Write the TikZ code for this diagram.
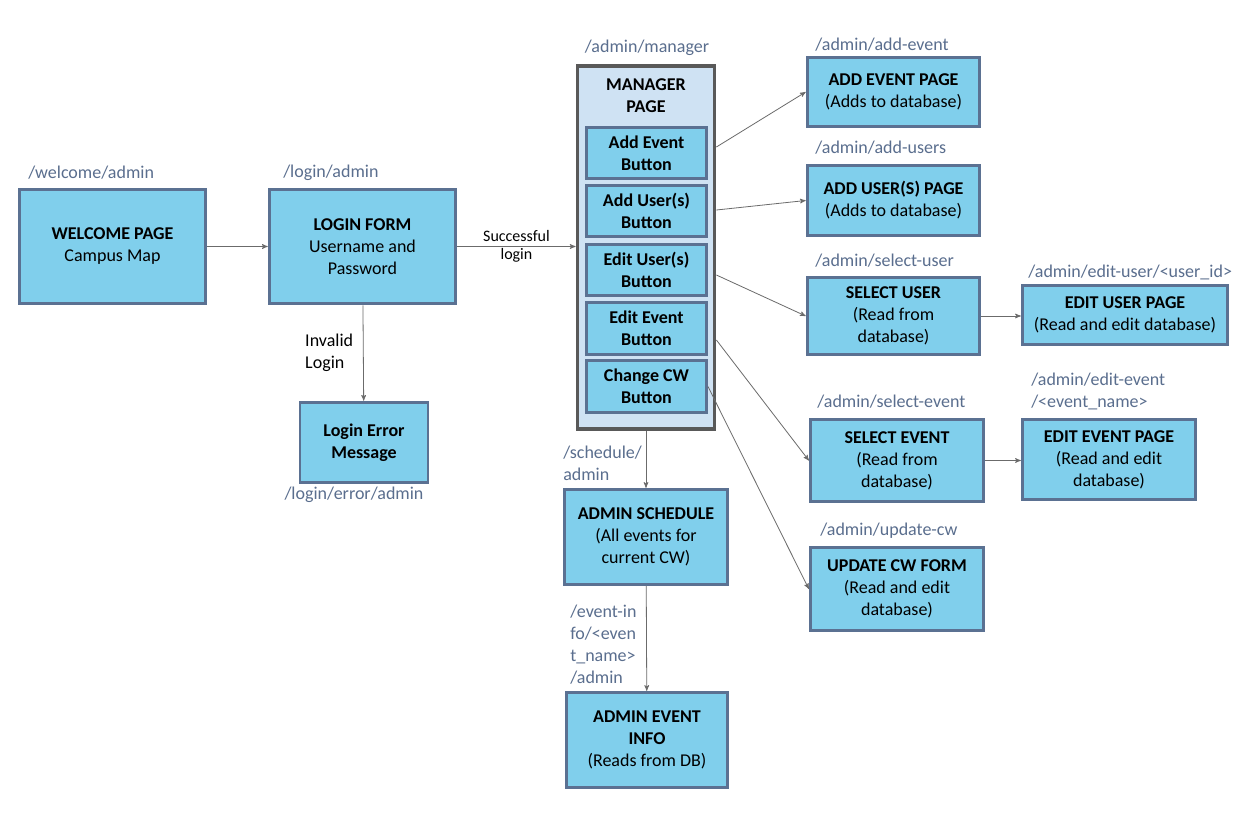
\documentclass[tikz,border=0pt]{standalone}
\usepackage{fontspec}
\setmainfont{Carlito}
\usetikzlibrary{arrows,positioning}
\definecolor{boxfill}{HTML}{80CFEC}
\definecolor{boxline}{HTML}{5B7192}
\definecolor{mgrfill}{HTML}{CFE2F3}
\definecolor{mgrline}{HTML}{595959}
\definecolor{routetext}{HTML}{5A6E8E}
\definecolor{linkline}{HTML}{6B6B6B}
\newcommand{\boxfont}{\fontsize{13.5}{16.5}\selectfont}
\tikzstyle{page}=[draw=boxline,fill=boxfill,line width=2.2pt,align=center,inner sep=2pt]
\tikzstyle{button}=[page,minimum width=90pt,minimum height=38.5pt]
\tikzstyle{route}=[text=routetext,inner sep=0pt]
\tikzstyle{link}=[->,>=stealth',draw=linkline,line width=0.6pt]

\begin{document}
\begin{tikzpicture}[x=0.75pt,y=-0.75pt,every node/.style={font=\boxfont}]
    \useasboundingbox (0,0) rectangle (1254,818);
    \fill[white] (0,0) rectangle (1254,818);

    % left part
    \node[page,minimum width=140pt,minimum height=86pt] (welcome) at (112.5,246.5) {\textbf{WELCOME PAGE}\\Campus Map};
    \node[page,minimum width=140pt,minimum height=86pt] (login) at (362.5,246.5) {\textbf{LOGIN FORM}\\Username and\\Password};
    \node[page,minimum width=96pt,minimum height=60.5pt] (error) at (364,442.5) {\textbf{Login Error}\\\textbf{Message}};

    % manager page with its buttons
    \node[draw=mgrline,fill=mgrfill,line width=2.6pt,minimum width=103pt,minimum height=272pt] (mgr) at (646,247.5) {};
    \node[align=center] (mgrtitle) at (646,96) {\textbf{MANAGER}\\\textbf{PAGE}};
    \node[button] (b1) at (646.5,153)   {\textbf{Add Event}\\\textbf{Button}};
    \node[button] (b2) at (646.5,211)   {\textbf{Add User(s)}\\\textbf{Button}};
    \node[button] (b3) at (646.5,270)   {\textbf{Edit User(s)}\\\textbf{Button}};
    \node[button] (b4) at (646.5,328.5) {\textbf{Edit Event}\\\textbf{Button}};
    \node[button] (b5) at (646.5,386.5) {\textbf{Change CW}\\\textbf{Button}};

    % right part
    \node[page,minimum width=129.5pt,minimum height=52pt] (addevent) at (893.5,92) {\textbf{ADD EVENT PAGE}\\(Adds to database)};
    \node[page,minimum width=129.5pt,minimum height=53pt] (addusers) at (893.5,200.5) {\textbf{ADD USER(S) PAGE}\\(Adds to database)};
    \node[page,minimum width=129.5pt,minimum height=58pt] (seluser) at (893.5,316) {\textbf{SELECT USER}\\(Read from\\database)};
    \node[page,minimum width=154pt,minimum height=44.5pt] (edituser) at (1125,315) {\textbf{EDIT USER PAGE}\\(Read and edit database)};
    \node[page,minimum width=130pt,minimum height=62pt] (selevent) at (897,460.5) {\textbf{SELECT EVENT}\\(Read from\\database)};
    \node[page,minimum width=130pt,minimum height=60.5pt] (editevent) at (1109,459.5) {\textbf{EDIT EVENT PAGE}\\(Read and edit\\database)};
    \node[page,minimum width=130pt,minimum height=62.5pt] (updatecw) at (897,589) {\textbf{UPDATE CW FORM}\\(Read and edit\\database)};

    % bottom part
    \node[page,minimum width=122.5pt,minimum height=71.5pt] (schedule) at (646,537) {\textbf{ADMIN SCHEDULE}\\(All events for\\current CW)};
    \node[page,minimum width=121pt,minimum height=71.5pt] (eventinfo) at (647,740) {\textbf{ADMIN EVENT}\\\textbf{INFO}\\(Reads from DB)};

    % routes
    \node[route,anchor=west] (rwelcome) at (28,173) {/welcome/admin};
    \node[route,anchor=west] (rlogin) at (283,173) {/login/admin};
    \node[route] (rerror) at (354,495) {/login/error/admin};
    \node[route] (rmgr) at (647,48) {/admin/manager};
    \node[route,anchor=west] (raddevent) at (815,45) {/admin/add-event};
    \node[route,anchor=west] (raddusers) at (815,148) {/admin/add-users};
    \node[route,anchor=west] (rseluser) at (815,261) {/admin/select-user};
    \node[route,anchor=west] (redituser) at (1028,272) {/admin/edit-user/<user\_id>};
    \node[route,anchor=west] (rselevent) at (817,402) {/admin/select-event};
    \node[route,anchor=west,align=left] (reditevent) at (1031,391) {/admin/edit-event\\/<event\_name>};
    \node[route,anchor=west] (rupdatecw) at (820,531) {/admin/update-cw};
    \node[route,anchor=west,align=left] (rschedule) at (563,463.5) {/schedule/\\admin};
    \node[route,anchor=west,align=left] (reventinfo) at (570,644.5) {/event-in\\fo/<even\\t\_name>\\/admin};

    % connectors
    \draw[link] (welcome) -- (login);
    \draw[link] (login) -- node[align=center,inner sep=0pt,font=\fontsize{12}{13.5}\selectfont] {Successful\\login} (mgr.west |- login);
    \draw[link] (login) -- node[left,align=left,xshift=-4pt] {Invalid\\Login} (error);
    \draw[link] (mgr.east |- 0,147) -- (addevent.west);
    \draw[link] (mgr.east |- 0,210) -- (addusers.west);
    \draw[link] (mgr.east |- 0,275) -- (seluser.west);
    \draw[link] (mgr.east |- 0,340) -- (selevent.west);
    \draw[link] (b5.east) -- (updatecw.west);
    \draw[link] (seluser) -- (edituser.west |- seluser);
    \draw[link] (selevent) -- (editevent.west |- selevent);
    \draw[link] (mgr) -- (schedule);
    \draw[link] (schedule) -- (eventinfo);
\end{tikzpicture}
\end{document}
